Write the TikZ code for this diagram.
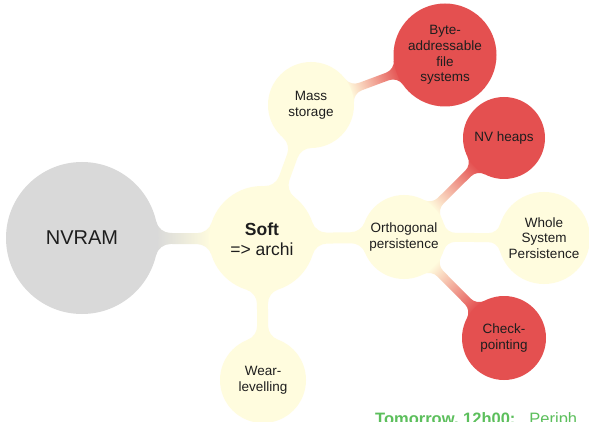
\documentclass[tikz,border=0pt]{standalone}
\usepackage{fontspec}
\setmainfont{Liberation Sans}
\definecolor{graycol}{RGB}{217,217,217}
\definecolor{yelcol}{RGB}{255,252,222}
\definecolor{redcol}{RGB}{228,80,80}
\definecolor{txtcol}{RGB}{30,30,30}
\definecolor{greencol}{RGB}{92,191,92}
\pgfdeclarelayer{bg}
\pgfsetlayers{bg,main}
\newcommand\mmconn[6]{%
  \pgfpointanchor{#1}{center}\pgfgetlastxy{\mmAx}{\mmAy}%
  \pgfpointanchor{#1}{east}\pgfgetlastxy{\mmAex}{\mmAey}%
  \pgfpointanchor{#2}{center}\pgfgetlastxy{\mmBx}{\mmBy}%
  \pgfpointanchor{#2}{east}\pgfgetlastxy{\mmBex}{\mmBey}%
  \pgfmathsetmacro\mmra{\mmAex-\mmAx}%
  \pgfmathsetmacro\mmrb{\mmBex-\mmBx}%
  \pgfmathsetmacro\mmL{veclen(\mmBx-\mmAx,\mmBy-\mmAy)}%
  \pgfmathsetmacro\mmang{atan2(\mmBy-\mmAy,\mmBx-\mmAx)}%
  \pgfmathsetmacro\mmw{#3}%
  \pgfmathsetmacro\mmR{#4}%
  \pgfmathsetmacro\mmwR{\mmw+\mmR}%
  \pgfmathsetmacro\mmcA{sqrt((\mmra+\mmR)^2-\mmwR^2)}%
  \pgfmathsetmacro\mmcB{sqrt((\mmrb+\mmR)^2-\mmwR^2)}%
  \pgfmathsetmacro\mmgA{atan2(\mmwR,\mmcA)}%
  \pgfmathsetmacro\mmgB{atan2(\mmwR,\mmcB)}%
  \pgfmathsetmacro\mmtAx{\mmra*\mmcA/(\mmra+\mmR)}%
  \pgfmathsetmacro\mmtAy{\mmra*\mmwR/(\mmra+\mmR)}%
  \pgfmathsetmacro\mmtBx{\mmL-\mmrb*\mmcB/(\mmrb+\mmR)}%
  \pgfmathsetmacro\mmtBy{\mmrb*\mmwR/(\mmrb+\mmR)}%
  \pgfmathsetmacro\mmxB{\mmL-\mmcB}%
  \pgfmathsetmacro\mmsh{\mmang-90}%
  \begin{scope}[shift={(\mmAx,\mmAy)},rotate=\mmang]
    \shade[top color=#6,bottom color=#5,shading angle=\mmsh]
      (\mmtAx pt,\mmtAy pt) arc[start angle=180+\mmgA,end angle=270,radius=\mmR pt]
      -- (\mmxB pt,\mmw pt) arc[start angle=270,end angle=360-\mmgB,radius=\mmR pt]
      -- (\mmtBx pt,-\mmtBy pt) arc[start angle=\mmgB,end angle=90,radius=\mmR pt]
      -- (\mmcA pt,-\mmw pt) arc[start angle=90,end angle=180-\mmgA,radius=\mmR pt]
      -- cycle;
  \end{scope}%
}
\tikzset{
  mmnode/.style={circle, inner sep=0pt, outer sep=0pt, align=center, text=txtcol,
    font=\fontsize{13.5}{15.7}\selectfont},
  gnode/.style={mmnode, fill=graycol},
  ynode/.style={mmnode, fill=yelcol},
  rnode/.style={mmnode, fill=redcol},
}
\begin{document}
\begin{tikzpicture}[x=1pt,y=-1pt]
\useasboundingbox (0,0) rectangle (589,422);
\clip (0,0) rectangle (589,422);
\node[gnode, minimum size=152pt, font=\fontsize{20}{24}\selectfont] (nvram) at (82,238) {NVRAM};
\node[ynode, minimum size=106pt, font=\fontsize{17.5}{20}\selectfont] (soft) at (262,239) {\textbf{Soft}\\=> archi};
\node[ynode, minimum size=86pt] (mass) at (311,105) {Mass\\storage};
\node[rnode, minimum size=103pt] (byte) at (445,55) {Byte-\\addressable\\file\\systems};
\node[ynode, minimum size=84pt] (ortho) at (404,237) {Orthogonal\\persistence};
\node[rnode, minimum size=82pt] (nvheaps) at (504,138) {NV heaps};
\node[ynode, minimum size=92pt] (whole) at (544,238) {Whole\\System\\Persistence};
\node[rnode, minimum size=84pt] (check) at (504,338) {Check-\\pointing};
\node[ynode, minimum size=86pt] (wear) at (263,380) {Wear-\\levelling};
\node[anchor=base west, inner sep=0pt, text=greencol, font=\fontsize{16.5}{19}\selectfont] (tomorrow) at (375,424) {\textbf{Tomorrow, 12h00:}\hspace{14pt}Periph};
\begin{pgfonlayer}{bg}
\fill[white] (0,0) rectangle (589,422);
\mmconn{nvram}{soft}{5.5}{15}{graycol}{yelcol}
\mmconn{soft}{mass}{5.5}{15}{yelcol}{yelcol}
\mmconn{soft}{ortho}{5.5}{15}{yelcol}{yelcol}
\mmconn{soft}{wear}{5.5}{15}{yelcol}{yelcol}
\mmconn{mass}{byte}{4}{12}{yelcol}{redcol}
\mmconn{ortho}{nvheaps}{4}{12}{yelcol}{redcol}
\mmconn{ortho}{whole}{4.5}{12}{yelcol}{yelcol}
\mmconn{ortho}{check}{4}{12}{yelcol}{redcol}
\end{pgfonlayer}
\end{tikzpicture}
\end{document}
